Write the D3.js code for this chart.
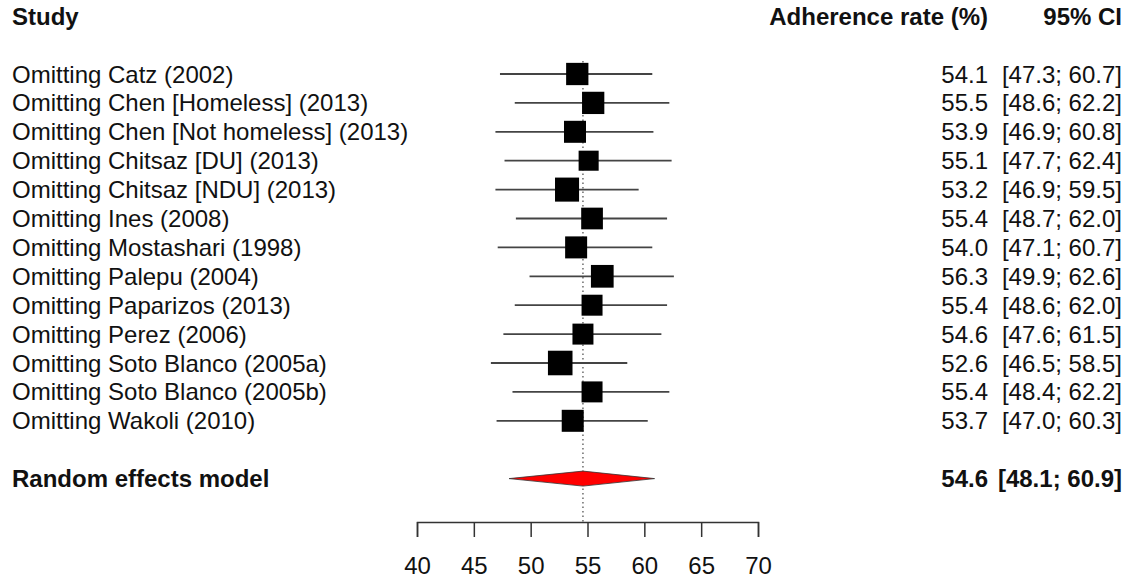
<!DOCTYPE html>
<html>
<head>
<meta charset="utf-8">
<script src="https://cdn.jsdelivr.net/npm/d3@7"></script>
<style>
    body { margin: 0; background: #fff; }
    svg text { font-family: "Liberation Sans", Arial, sans-serif; fill: #111; }
</style>
</head>
<body>
<div id="forest"></div>
<script>
const studies = [
    'Omitting Catz (2002)',
    'Omitting Chen [Homeless] (2013)',
    'Omitting Chen [Not homeless] (2013)',
    'Omitting Chitsaz [DU] (2013)',
    'Omitting Chitsaz [NDU] (2013)',
    'Omitting Ines (2008)',
    'Omitting Mostashari (1998)',
    'Omitting Palepu (2004)',
    'Omitting Paparizos (2013)',
    'Omitting Perez (2006)',
    'Omitting Soto Blanco (2005a)',
    'Omitting Soto Blanco (2005b)',
    'Omitting Wakoli (2010)'
];
const estimates = [54.1, 55.5, 53.9, 55.1, 53.2, 55.4, 54.0, 56.3, 55.4, 54.6, 52.6, 55.4, 53.7];
const lower     = [47.3, 48.6, 46.9, 47.7, 46.9, 48.7, 47.1, 49.9, 48.6, 47.6, 46.5, 48.4, 47.0];
const upper     = [60.7, 62.2, 60.8, 62.4, 59.5, 62.0, 60.7, 62.6, 62.0, 61.5, 58.5, 62.2, 60.3];
// relative weights (square area)
const weights   = [7.9, 7.9, 7.7, 6.4, 9.2, 7.5, 7.7, 8.2, 7.0, 7.0, 9.6, 7.0, 7.7];

const pooled = {label: 'Random effects model', est: 54.6, lo: 48.1, hi: 60.9};
const xTicks = [40, 45, 50, 55, 60, 65, 70];

const fmt = d3.format('.1f');

function canvas() {
    const width = 1135, height = 581;
    const svg = d3.select('#forest')
        .append('svg')
            .attr('width', width)
            .attr('height', height);

    const xScale = d3.scaleLinear()
        .domain([40, 70])
        .range([417, 758]);

    // rows: header at -2, studies 0..12, summary at 14
    const yScale = d3.scaleLinear()
        .domain([0, 1])
        .range([74, 102.9]);

    const sizeScale = d3.scaleSqrt()
        .domain([0, 7.7])
        .range([0, 22]);

    return { svg, xScale, yScale, sizeScale };
}

function drawHeader(svg, yScale) {
    const y = yScale(-2) + 8.5;
    const g = svg.append('g').style('font-weight', 'bold').style('font-size', '24px');
    g.append('text').attr('x', 12).attr('y', y).text('Study');
    g.append('text').attr('x', 988).attr('y', y).attr('text-anchor', 'end').text('Adherence rate (%)');
    g.append('text').attr('x', 1122).attr('y', y).attr('text-anchor', 'end').text('95% CI');
}

function drawStudies(svg, xScale, yScale, sizeScale) {
    const data = studies.map((s, i) => ({
        label: s, est: estimates[i], lo: lower[i], hi: upper[i], w: weights[i], i
    }));

    // reference line at pooled estimate
    svg.append('line')
        .attr('x1', xScale(pooled.est))
        .attr('x2', xScale(pooled.est))
        .attr('y1', yScale(0) - 13)
        .attr('y2', 522)
        .attr('stroke', '#555')
        .attr('stroke-width', 1.3)
        .attr('stroke-dasharray', '1.5,3');

    const rows = svg.selectAll('.row')
        .data(data)
        .enter().append('g')
            .attr('class', 'row')
            .attr('transform', d => 'translate(0,' + yScale(d.i) + ')');

    rows.append('line')
        .attr('x1', d => xScale(d.lo))
        .attr('x2', d => xScale(d.hi))
        .attr('stroke', '#444')
        .attr('stroke-width', 1.8);

    rows.append('rect')
        .attr('x', d => xScale(d.est) - sizeScale(d.w) / 2)
        .attr('y', d => -sizeScale(d.w) / 2)
        .attr('width', d => sizeScale(d.w))
        .attr('height', d => sizeScale(d.w))
        .attr('fill', '#000');

    const txt = rows.append('g').style('font-size', '24px');
    txt.append('text').attr('x', 12).attr('y', 8.5).text(d => d.label);
    txt.append('text').attr('x', 988).attr('y', 8.5).attr('text-anchor', 'end').text(d => fmt(d.est));
    txt.append('text').attr('x', 1122).attr('y', 8.5).attr('text-anchor', 'end')
        .text(d => '[' + fmt(d.lo) + '; ' + fmt(d.hi) + ']');
}

function drawSummary(svg, xScale, yScale) {
    const y = yScale(14);
    const h = 7.5;
    const pts = [
        [xScale(pooled.lo), y], [xScale(pooled.est), y - h],
        [xScale(pooled.hi), y], [xScale(pooled.est), y + h]
    ];
    svg.append('polygon')
        .attr('points', pts.map(p => p.join(',')).join(' '))
        .attr('fill', '#ff0000')
        .attr('stroke', '#333')
        .attr('stroke-width', 0.8);

    const g = svg.append('g').style('font-weight', 'bold').style('font-size', '24px');
    g.append('text').attr('x', 12).attr('y', y + 8.5).text(pooled.label);
    g.append('text').attr('x', 988).attr('y', y + 8.5).attr('text-anchor', 'end').text(fmt(pooled.est));
    g.append('text').attr('x', 1122).attr('y', y + 8.5).attr('text-anchor', 'end')
        .text('[' + fmt(pooled.lo) + '; ' + fmt(pooled.hi) + ']');
}

function drawAxis(svg, xScale) {
    const axis = svg.append('g')
        .attr('transform', 'translate(0,522)')
        .call(d3.axisBottom(xScale).tickValues(xTicks).tickSize(15).tickPadding(20).tickFormat(d3.format('d')));
    axis.select('.domain').attr('stroke', '#333').attr('stroke-width', 1.5);
    axis.selectAll('.tick line').attr('stroke', '#333').attr('stroke-width', 1.5);
    axis.selectAll('.tick text')
        .style('font-size', '24px')
        .style('font-family', '"Liberation Sans", Arial, sans-serif')
        .attr('fill', '#222');
}

function main() {
    const { svg, xScale, yScale, sizeScale } = canvas();
    drawHeader(svg, yScale);
    drawStudies(svg, xScale, yScale, sizeScale);
    drawSummary(svg, xScale, yScale);
    drawAxis(svg, xScale);
}

main();
</script>
</body>
</html>
